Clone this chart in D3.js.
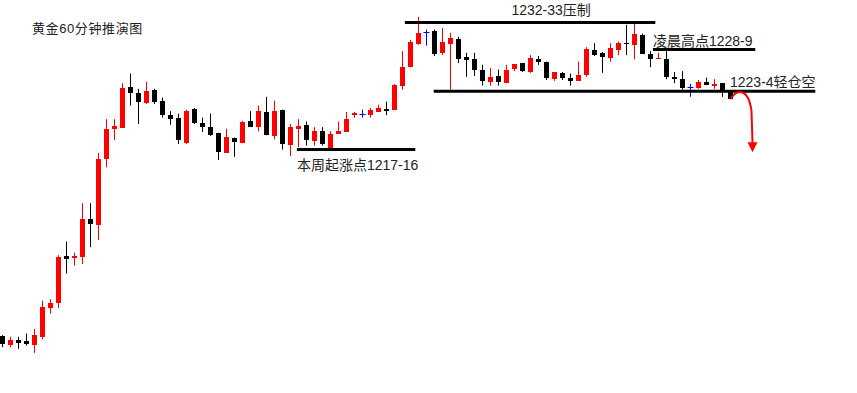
<!DOCTYPE html>
<html>
<head>
<meta charset="utf-8">
<script src="https://cdn.jsdelivr.net/npm/d3@7/dist/d3.min.js"></script>
<style>
html,body{margin:0;padding:0;background:#fff;}
svg{display:block;}
text{font-family:"Liberation Sans","Noto Sans CJK SC",sans-serif;}
</style>
</head>
<body>
<svg id="chart" width="857" height="393"></svg>
<script>
// 60-minute gold candles: [open, high, low, close]
const opens  = [1193.0,1191.9,1192.5,1192.4,1191.9,1192.9,1196.5,1197.1,1203.0,1202.7,1202.9,1207.6,1206.9,1215.1,1218.9,1219.0,1224.1,1223.4,1222.1,1223.8,1222.4,1220.6,1220.3,1217.1,1221.4,1219.6,1219.1,1218.4,1215.9,1217.8,1217.1,1219.9,1219.1,1221.0,1218.0,1221.3,1216.9,1218.9,1219.4,1217.4,1218.6,1216.4,1218.3,1218.5,1220.6,1220.8,1220.6,1221.0,1221.4,1221.3,1224.3,1226.6,1229.5,1231.0,1231.1,1228.4,1229.5,1230.1,1227.9,1227.6,1226.3,1224.8,1225.5,1224.6,1226.4,1227.1,1226.0,1227.6,1227.3,1225.1,1225.9,1225.3,1224.9,1225.6,1228.8,1228.4,1227.8,1228.8,1229.6,1229.4,1230.6,1228.3,1227.6,1227.6,1225.4,1225.1,1224.1,1224.0,1224.8,1224.3,1224.6,1223.5];
const highs  = [1193.1,1192.9,1192.9,1193.3,1193.9,1197.4,1197.6,1203.1,1204.8,1203.4,1209.6,1209.6,1215.9,1220.1,1220.1,1224.6,1225.8,1223.9,1224.8,1223.9,1222.8,1221.1,1220.8,1221.3,1221.5,1220.3,1220.8,1218.4,1218.9,1217.8,1219.9,1221.1,1221.8,1222.9,1222.4,1221.3,1219.5,1220.1,1219.8,1219.1,1219.1,1218.6,1219.8,1221.0,1221.0,1221.3,1221.5,1221.9,1222.3,1224.5,1228.6,1230.0,1232.9,1231.3,1231.3,1231.5,1230.9,1230.4,1228.4,1228.4,1226.9,1226.5,1226.3,1226.9,1227.0,1227.1,1228.1,1228.0,1227.3,1226.0,1226.0,1225.8,1227.3,1229.1,1229.6,1228.5,1229.6,1229.8,1231.9,1232.0,1230.8,1228.6,1228.4,1228.6,1226.0,1226.1,1224.5,1225.0,1225.3,1225.1,1224.6,1223.5];
const lows   = [1191.6,1191.6,1191.4,1191.8,1190.9,1192.6,1195.8,1196.5,1200.8,1201.8,1202.0,1204.1,1205.0,1214.1,1217.5,1219.0,1221.8,1219.5,1222.0,1222.0,1220.3,1219.4,1217.0,1217.0,1219.5,1218.5,1218.0,1215.0,1215.9,1215.4,1217.1,1219.1,1218.6,1218.1,1217.6,1216.3,1215.5,1216.6,1216.8,1216.8,1216.8,1216.4,1218.3,1218.5,1220.3,1220.3,1220.3,1221.0,1220.6,1221.3,1223.8,1226.6,1229.4,1229.3,1228.0,1228.1,1223.8,1227.1,1225.4,1225.5,1224.3,1224.3,1224.3,1224.6,1226.1,1226.0,1225.9,1226.9,1225.0,1224.9,1225.0,1224.3,1224.9,1225.4,1228.0,1225.9,1227.3,1228.1,1228.1,1227.6,1228.3,1226.6,1227.6,1225.1,1224.6,1223.8,1222.9,1223.9,1224.4,1223.9,1222.9,1222.6];
const closes = [1192.0,1192.5,1192.1,1192.0,1193.1,1196.6,1197.1,1202.9,1202.6,1203.0,1207.6,1207.0,1215.1,1218.9,1219.3,1224.0,1223.4,1222.3,1223.6,1222.3,1220.6,1220.1,1217.5,1221.1,1219.6,1219.1,1218.1,1216.0,1217.9,1217.3,1219.8,1219.1,1221.1,1218.1,1221.1,1217.0,1219.1,1219.3,1217.5,1218.6,1217.0,1218.3,1218.6,1220.1,1220.9,1220.8,1221.3,1221.5,1221.1,1224.4,1226.6,1229.8,1230.9,1231.0,1228.3,1229.8,1230.3,1227.6,1227.5,1226.3,1224.9,1225.4,1224.8,1226.3,1227.0,1226.1,1227.8,1227.3,1225.3,1226.0,1225.3,1224.9,1225.6,1228.9,1228.1,1227.9,1229.0,1229.6,1229.5,1230.8,1228.3,1227.6,1227.8,1225.4,1225.1,1224.0,1224.1,1224.8,1224.4,1224.5,1223.6,1222.6];

const titleText = "黄金60分钟推演图";
// annotation levels: price, start/end candle index, label
const levelPrices = [1232.2, 1228.8, 1223.6, 1216.3];
const levelStart  = [50.3, 81.3, 53.9, 36.8];
const levelEnd    = [81.6, 94.1, 101.6, 51.6];
const levelLabels = ["1232-33压制", "凌晨高点1228-9", "1223-4轻仓空", "本周起涨点1217-16"];

const svg = d3.select("#chart");
const n = opens.length;
const candles = d3.range(n).map(i => ({i, o: opens[i], h: highs[i], l: lows[i], c: closes[i]}));

const x = d3.scaleLinear().domain([0, n - 1]).range([2.5, 2.5 + 8 * (n - 1)]);
const y = d3.scaleLinear().domain([1235, 1185]).range([0, 400]);
const bodyW = 5;
const color = d => d.c > d.o ? "#ff0000" : (d.c < d.o ? "#000000" : "#0000ff");

// title
svg.append("text").attr("x", 32).attr("y", 33)
  .attr("font-size", 13).attr("letter-spacing", 0.6).attr("fill", "#222").text(titleText);

const g = svg.append("g");
// wicks
g.selectAll("line.wick").data(candles).join("line")
  .attr("class", "wick")
  .attr("x1", d => x(d.i)).attr("x2", d => x(d.i))
  .attr("y1", d => y(d.h)).attr("y2", d => y(d.l))
  .attr("stroke", color).attr("stroke-width", 1);
// bodies
g.selectAll("rect.body").data(candles.filter(d => d.o !== d.c)).join("rect")
  .attr("class", "body")
  .attr("x", d => x(d.i) - bodyW / 2)
  .attr("width", bodyW)
  .attr("y", d => y(Math.max(d.o, d.c)))
  .attr("height", d => Math.max(1, Math.abs(y(d.o) - y(d.c))))
  .attr("fill", color)
  .attr("shape-rendering", "crispEdges");
// doji bars
g.selectAll("line.doji").data(candles.filter(d => d.o === d.c)).join("line")
  .attr("class", "doji")
  .attr("x1", d => x(d.i) - bodyW / 2 - 0.5).attr("x2", d => x(d.i) + bodyW / 2 + 0.5)
  .attr("y1", d => Math.round(y(d.o)) + 0.5).attr("y2", d => Math.round(y(d.o)) + 0.5)
  .attr("stroke", color).attr("stroke-width", 1);

// annotation lines
const levels = levelPrices.map((p, k) => ({p, s: levelStart[k], e: levelEnd[k], label: levelLabels[k]}));
svg.selectAll("line.level").data(levels).join("line")
  .attr("class", "level")
  .attr("x1", d => x(d.s)).attr("x2", d => x(d.e))
  .attr("y1", d => y(d.p)).attr("y2", d => y(d.p))
  .attr("stroke", "#000").attr("stroke-width", 3);

// annotation labels
const labelPos = [
  {dy: -7, anchor: "middle", ref: "mid"},
  {dy: -4, anchor: "start", ref: "start"},
  {dy: -4, anchor: "start", ref: "last"},
  {dy: 20, anchor: "start", ref: "start"}
];
svg.selectAll("text.label").data(levels).join("text")
  .attr("class", "label")
  .attr("x", (d, k) => {
    const r = labelPos[k].ref;
    if (r === "mid") return (x(d.s) + x(d.e)) / 2 + 21;
    if (r === "last") return x(n - 1) - 0.5;
    return x(d.s);
  })
  .attr("y", (d, k) => y(d.p) + labelPos[k].dy)
  .attr("text-anchor", (d, k) => labelPos[k].anchor)
  .attr("font-size", 14).attr("fill", "#222")
  .text(d => d.label);

// red projection arrow from the last candle
const last = candles[n - 1];
const ax = x(last.i), ay = y(last.l);
svg.append("path")
  .attr("d", `M${ax},${ay} C${ax + 6},${ay - 10} ${ax + 18},${ay - 12} ${ax + 21},${ay + 12} L${ax + 22},${ay + 44}`)
  .attr("fill", "none").attr("stroke", "#ff0000").attr("stroke-width", 2);
svg.append("path")
  .attr("d", `M${ax + 17},${ay + 43} L${ax + 27},${ay + 43} L${ax + 22},${ay + 53} Z`)
  .attr("fill", "#ff0000");
</script>
</body>
</html>
